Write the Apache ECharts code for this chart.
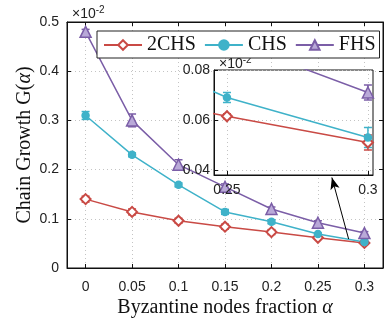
<!DOCTYPE html>
<html>
<head>
<meta charset="utf-8">
<script src="https://cdn.jsdelivr.net/npm/echarts@6/dist/echarts.min.js"></script>
<style>
  html, body { margin: 0; padding: 0; background: #fff; }
  #chart { width: 392px; height: 324px; }
</style>
</head>
<body>
<div id="chart"></div>
<script>
// values are in units of 10^-2
const alphas = [0, 0.05, 0.1, 0.15, 0.2, 0.25, 0.3]
const g2chs = [0.14, 0.114, 0.096, 0.084, 0.073, 0.0615, 0.051]
const err2chs = [0.006, 0.006, 0.005, 0.005, 0.005, 0.001, 0.003]
const gchs = [0.31, 0.23, 0.169, 0.114, 0.094, 0.069, 0.053]
const errchs = [0.008, 0.004, 0.004, 0.005, 0.004, 0.002, 0.004]
const gfhs = [0.48, 0.30, 0.21, 0.165, 0.12, 0.092, 0.071]
const errfhs = [0.005, 0.013, 0.01, 0.006, 0.004, 0.004, 0.003]

const xTicks = [0, 0.05, 0.1, 0.15, 0.2, 0.25, 0.3]
const insetXTicks = [0.25, 0.3]
const insetYTicks = [0.04, 0.06, 0.08]
const arrowFrom = [0.283, 0.059]
const arrowTo = [0.265, 0.184]

const RED = '#c94a45'
const CYAN = '#3fb2c9'
const PURPLE = '#7b5ea7'
const SANS = 'Liberation Sans, Arial, sans-serif'
const SERIF = 'Liberation Serif, Times New Roman, serif'

const fmt = v => (v === 0 ? '0' : String(+v.toFixed(2)))

function errData(ys, errs) {
  return alphas.map((x, i) => [x, ys[i] - errs[i], ys[i] + errs[i]])
}

function errRender(params, api) {
  const x = api.value(0)
  const lo = api.coord([x, api.value(1)])
  const hi = api.coord([x, api.value(2)])
  const w = 4
  const style = { stroke: api.visual('color'), lineWidth: 1.5 }
  return {
    type: 'group',
    children: [
      { type: 'line', shape: { x1: lo[0], y1: lo[1], x2: hi[0], y2: hi[1] }, style },
      { type: 'line', shape: { x1: lo[0] - w, y1: lo[1], x2: lo[0] + w, y2: lo[1] }, style },
      { type: 'line', shape: { x1: hi[0] - w, y1: hi[1], x2: hi[0] + w, y2: hi[1] }, style }
    ]
  }
}

const sets = [
  { name: '2CHS', ys: g2chs, errs: err2chs, color: RED, symbol: 'emptyDiamond', size: 10 },
  { name: 'CHS', ys: gchs, errs: errchs, color: CYAN, symbol: 'circle', size: 7 },
  { name: 'FHS', ys: gfhs, errs: errfhs, color: PURPLE, symbol: 'triangle', size: 11 }
]

function buildSeries(axisIdx, z) {
  const out = []
  sets.forEach(s => {
    out.push({
      name: s.name,
      type: 'line',
      xAxisIndex: axisIdx,
      yAxisIndex: axisIdx,
      data: alphas.map((x, i) => [x, s.ys[i]]),
      symbol: s.symbol,
      symbolSize: s.size,
      showAllSymbol: true,
      clip: true,
      z: z + 1,
      lineStyle: { color: s.color, width: 1.5 },
      itemStyle: {
        color: s.symbol === 'triangle' ? '#b9a9d8' : s.color,
        borderColor: s.color,
        borderWidth: 1.5
      },
      silent: true
    })
    out.push({
      name: s.name,
      type: 'custom',
      xAxisIndex: axisIdx,
      yAxisIndex: axisIdx,
      renderItem: errRender,
      itemStyle: { color: s.color },
      data: errData(s.ys, s.errs),
      clip: true,
      z: z,
      silent: true
    })
  })
  return out
}

const series = buildSeries(0, 2).concat(buildSeries(1, 12))
series[0].markLine = {
  silent: true,
  symbol: ['none', 'arrow'],
  symbolSize: [7, 12],
  label: { show: false },
  lineStyle: { color: '#000', width: 1, type: 'solid' },
  data: [[{ coord: arrowFrom }, { coord: arrowTo }]]
}

const tickStyle = { color: '#222', fontFamily: SANS, fontSize: 14 }
const dotted = { show: true, lineStyle: { color: '#c4c4c4', type: [1, 3], width: 1 } }
const blackLine = { show: true, onZero: false, lineStyle: { color: '#111' } }
const supText = {
  fontFamily: SANS, fontSize: 14, fontWeight: 'normal', color: '#222',
  rich: { s: { fontFamily: SANS, fontSize: 10, verticalAlign: 'top', padding: [0, 0, 8, 0], color: '#222' } }
}
const nameStyle = {
  fontFamily: SERIF, fontSize: 20, color: '#111',
  rich: { i: { fontFamily: SERIF, fontStyle: 'italic', fontSize: 20, color: '#111' } }
}

const chart = echarts.init(document.getElementById('chart'))
chart.setOption({
  animation: false,
  title: [
    { left: 67, top: 0, text: '×10{s|-2}', textStyle: supText },
    { left: 214, top: 50, z: 15, text: '×10{s|-2}', textStyle: supText }
  ],
  legend: {
    left: 97, top: 31, z: 30,
    data: ['2CHS', 'CHS', 'FHS'],
    backgroundColor: '#fff',
    borderColor: '#222', borderWidth: 1,
    padding: [4, 4, 3, 6],
    itemGap: 8,
    itemWidth: 38, itemHeight: 12,
    textStyle: { fontFamily: SERIF, fontSize: 20, color: '#111' }
  },
  grid: [
    { left: 67, top: 22, right: 9, bottom: 56, outerBoundsMode: 'none', show: true, borderColor: '#111', borderWidth: 1 },
    { left: 214, top: 70, width: 159, height: 105, outerBoundsMode: 'none', show: true, backgroundColor: '#fff', borderColor: '#111', borderWidth: 1, z: 10 }
  ],
  xAxis: [
    {
      type: 'value', gridIndex: 0, min: -0.02, max: 0.32,
      axisLine: blackLine,
      axisTick: { inside: true, length: 4, customValues: xTicks, lineStyle: { color: '#111' } },
      axisLabel: { customValues: xTicks, formatter: fmt, margin: 12, ...tickStyle },
      splitLine: dotted,
      name: 'Byzantine nodes fraction {i|α}',
      nameLocation: 'middle', nameGap: 30, nameMoveOverlap: false,
      nameTextStyle: nameStyle
    },
    {
      type: 'value', gridIndex: 1, min: 0.2454, max: 0.3018, z: 11,
      axisLine: blackLine,
      axisTick: { inside: true, length: 4, customValues: insetXTicks, lineStyle: { color: '#111' } },
      axisLabel: { customValues: insetXTicks, formatter: fmt, margin: 8, ...tickStyle },
      splitLine: dotted
    },
    {
      type: 'value', gridIndex: 0, position: 'top', min: -0.02, max: 0.32,
      axisLine: blackLine,
      axisTick: { inside: true, length: 4, customValues: xTicks, lineStyle: { color: '#111' } },
      axisLabel: { show: false },
      splitLine: { show: false }
    }
  ],
  yAxis: [
    {
      type: 'value', gridIndex: 0, min: 0, max: 0.5, interval: 0.1,
      axisLine: blackLine,
      axisTick: { inside: true, length: 4, lineStyle: { color: '#111' } },
      axisLabel: { formatter: fmt, margin: 8, ...tickStyle },
      splitLine: dotted,
      name: 'Chain Growth G({i|α})',
      nameLocation: 'middle', nameGap: 32, nameMoveOverlap: false,
      nameTextStyle: nameStyle
    },
    {
      type: 'value', gridIndex: 1, min: 0.038, max: 0.08, z: 11,
      axisLine: blackLine,
      axisTick: { inside: true, length: 4, customValues: insetYTicks, lineStyle: { color: '#111' } },
      axisLabel: { customValues: insetYTicks, formatter: fmt, margin: 4, ...tickStyle },
      splitLine: dotted
    },
    {
      type: 'value', gridIndex: 0, position: 'right', min: 0, max: 0.5, interval: 0.1,
      axisLine: blackLine,
      axisTick: { inside: true, length: 4, lineStyle: { color: '#111' } },
      axisLabel: { show: false },
      splitLine: { show: false }
    }
  ],
  series: series
})
</script>
</body>
</html>
